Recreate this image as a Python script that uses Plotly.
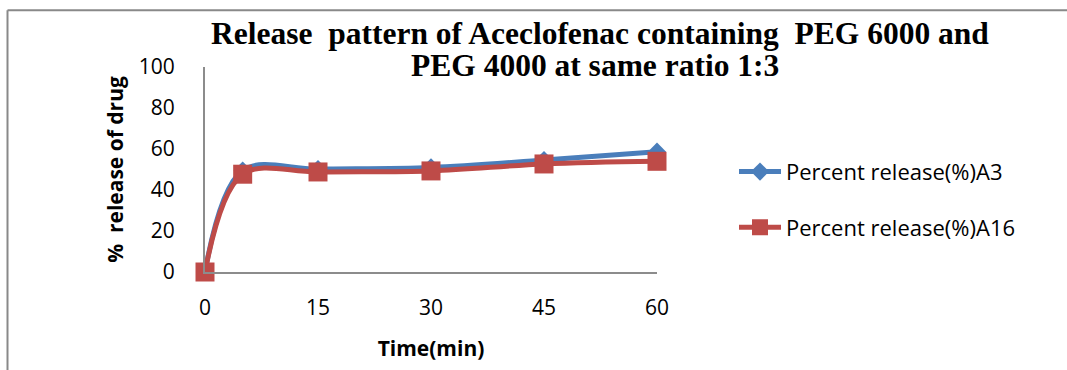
import plotly.graph_objects as go

# Dissolution data: time points (min) and cumulative % drug released
time_min = [0, 5, 15, 30, 45, 60]
release_a3 = [0, 49.5, 50.2, 51.0, 54.6, 58.7]
release_a16 = [0, 47.7, 48.8, 49.3, 52.7, 54.0]
x_ticks = [0, 15, 30, 45, 60]
y_ticks = [0, 20, 40, 60, 80, 100]

BLUE = "#4A7EBB"
RED = "#BE4B48"
AXIS_GREY = "#8C8C8C"
SANS = "Open Sans"

# plot-area pixel geometry (used to place frame lines in paper units)
W, H = 1067, 370
L, R, T, B = 205, 410, 67, 97.5
PW, PH = W - L - R, H - T - B


def px_x(x):
    return (x - L) / PW


def px_y(y):
    return (H - B - y) / PH


fig = go.Figure()
fig.add_trace(go.Scatter(
    x=time_min, y=release_a3, name="Percent release(%)A3",
    mode="lines+markers", line=dict(color=BLUE, width=5, shape="spline"),
    marker=dict(symbol="diamond", size=14, color=BLUE),
    cliponaxis=False, legendgroup="a3",
))
fig.add_trace(go.Scatter(
    x=time_min, y=release_a16, name="Percent release(%)A16",
    mode="lines+markers", line=dict(color=RED, width=5, shape="spline"),
    marker=dict(symbol="square", size=19, color=RED),
    cliponaxis=False, legendgroup="a16",
))

fig.update_layout(
    width=W, height=H,
    margin=dict(l=L, r=R, t=T, b=B, autoexpand=False),
    paper_bgcolor="white", plot_bgcolor="white",
    font=dict(family=SANS, size=21, color="black"),
    showlegend=True,
    legend=dict(
        x=px_x(734), y=px_y(151), xanchor="left", yanchor="top",
        font=dict(family=SANS, size=22, color="black"),
        itemwidth=42, tracegroupgap=24, bgcolor="rgba(0,0,0,0)",
    ),
    xaxis=dict(
        range=[0, 60], tickvals=x_ticks, ticktext=[str(v) for v in x_ticks],
        showgrid=False, zeroline=False, showline=True,
        linecolor=AXIS_GREY, linewidth=2, ticks="",
        ticklabelstandoff=16, tickfont=dict(size=21),
        title=dict(text="<b>Time(min)</b>", font=dict(size=21), standoff=21),
    ),
    yaxis=dict(
        range=[0, 100], tickvals=y_ticks, ticktext=[str(v) for v in y_ticks],
        showgrid=False, zeroline=False, showline=True,
        linecolor=AXIS_GREY, linewidth=2, ticks="",
        ticklabelstandoff=24, tickfont=dict(size=21),
        title=dict(text="<b>%  release of drug</b>", font=dict(size=21), standoff=9),
    ),
)

# chart title, two centred lines
title_font = dict(family="Liberation Serif", size=31.5, color="black")
fig.add_annotation(
    text="<b>Release  pattern of Aceclofenac containing  PEG 6000 and</b>",
    xref="paper", yref="paper", x=px_x(600), y=px_y(33),
    xanchor="center", yanchor="middle", showarrow=False, font=title_font,
)
fig.add_annotation(
    text="<b>PEG 4000 at same ratio 1:3</b>",
    xref="paper", yref="paper", x=px_x(595), y=px_y(65),
    xanchor="center", yanchor="middle", showarrow=False, font=title_font,
)

# chart-area frame (top and left edges)
frame = dict(color="#898989", width=2)
fig.add_shape(type="line", xref="paper", yref="paper",
              x0=px_x(7.5), x1=px_x(W + 5), y0=px_y(10), y1=px_y(10), line=frame)
fig.add_shape(type="line", xref="paper", yref="paper",
              x0=px_x(7.5), x1=px_x(7.5), y0=px_y(10), y1=px_y(H + 5), line=frame)

fig.write_html("out.html", config={"staticPlot": True})
